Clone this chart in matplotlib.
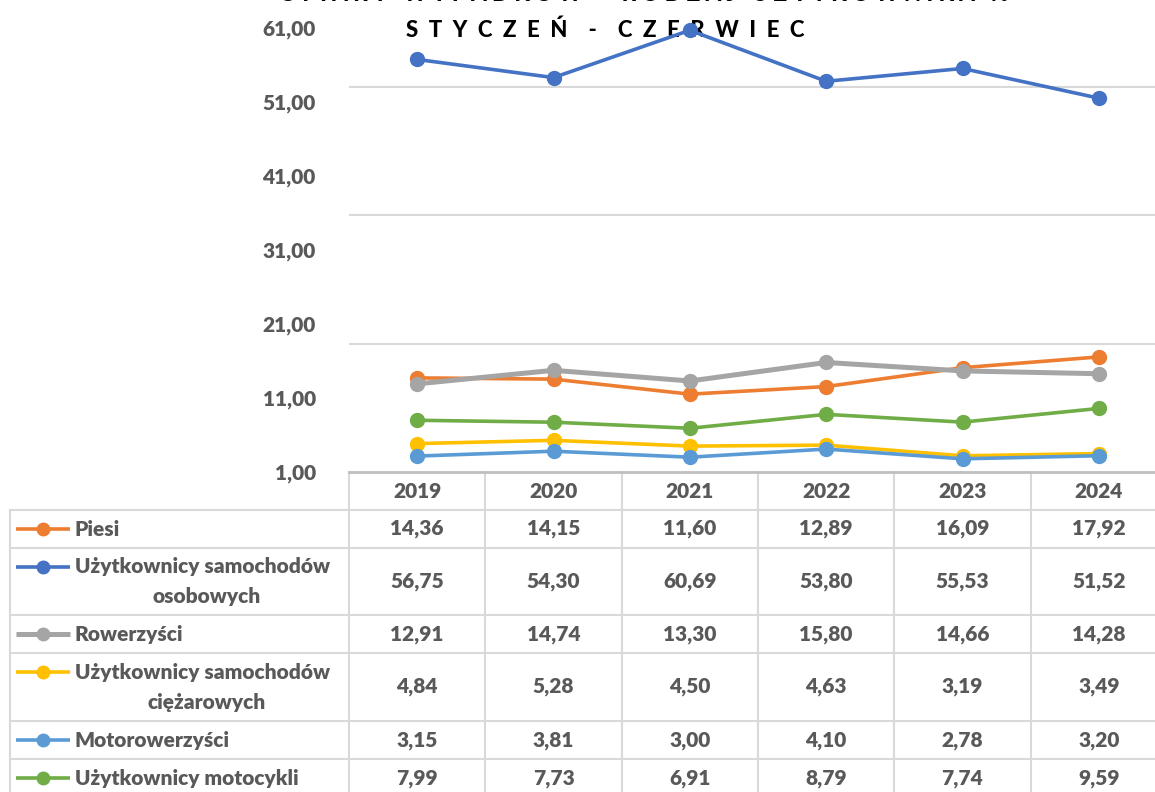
import numpy as np
import matplotlib
matplotlib.use("Agg")
import matplotlib.pyplot as plt

plt.rcParams['font.family'] = ['Lato', 'DejaVu Sans']

# data
years = ["2019", "2020", "2021", "2022", "2023", "2024"]
labels = ["Piesi",
          "Użytkownicy samochodów\nosobowych",
          "Rowerzyści",
          "Użytkownicy samochodów\nciężarowych",
          "Motorowerzyści",
          "Użytkownicy motocykli"]
piesi = [14.36, 14.15, 11.60, 12.89, 16.09, 17.92]
osobowe = [56.75, 54.30, 60.69, 53.80, 55.53, 51.52]
rowerzysci = [12.91, 14.74, 13.30, 15.80, 14.66, 14.28]
ciezarowe = [4.84, 5.28, 4.50, 4.63, 3.19, 3.49]
motorowery = [3.15, 3.81, 3.00, 4.10, 2.78, 3.20]
motocykle = [7.99, 7.73, 6.91, 8.79, 7.74, 9.59]
series = [piesi, osobowe, rowerzysci, ciezarowe, motorowery, motocykle]

colors = ["#ED7D31", "#4472C4", "#A5A5A5", "#FFC000", "#5B9BD5", "#70AD47"]
widths = [2.6, 2.6, 3.6, 2.6, 2.6, 2.6]
txt_col = "#595959"
grid_col = "#D9D9D9"
fw = 800

W, H = 1155, 792
fig = plt.figure(figsize=(W / 100, H / 100), dpi=100)

# chart area (pixels: x 349..1167, y 28..472)
x0, x1, ytop, ybot = 349, 1167, 28, 472
ax = fig.add_axes([x0 / W, 1 - ybot / H, (x1 - x0) / W, (ybot - ytop) / H])
ax.set_xlim(-0.5, len(years) - 0.5)
ax.set_ylim(1, 61)

# pedestrians sit on a hidden secondary axis in the original
ax2 = ax.twinx()
ax2.set_ylim(-1.6, 73.7)
ax2.axis('off')

# gridlines sit off the tick labels in the original
for g in np.linspace(1, 53, 4)[1:]:
    ax.axhline(g, color=grid_col, lw=1.5, zorder=0)

x = np.arange(len(years))
for k, (vals, c, lw) in enumerate(zip(series, colors, widths)):
    target = ax2 if k == 0 else ax
    target.plot(x, vals, color=c, lw=lw, marker='o', markersize=10,
                solid_capstyle='round', clip_on=False, zorder=3 + k)
ax2.set_zorder(ax.get_zorder() - 0.5)
ax.patch.set_alpha(0)

ticks = np.arange(1, 62, 10)
ax.set_yticks(ticks)
ax.set_yticklabels([f"{t:.2f}".replace('.', ',') for t in ticks],
                   fontsize=15, fontweight=fw, color=txt_col)
ax.tick_params(axis='y', length=0, pad=24)
ax.set_xticks([])
for s in ['top', 'right', 'left']:
    ax.spines[s].set_visible(False)
ax.spines['bottom'].set_color("#BFBFBF")
ax.spines['bottom'].set_linewidth(2)

# data table drawn in pixel coordinates
tab = fig.add_axes([0, 0, 1, 1], zorder=-1)
tab.set_xlim(0, W)
tab.set_ylim(H, 0)
tab.axis('off')

col_w = (x1 - x0) / len(years)
col_edges = [x0 + i * col_w for i in range(len(years) + 1)]
row_edges = [472, 510, 548, 615, 653, 721, 759, 797]

for xe in col_edges:
    tab.plot([xe, xe], [row_edges[0], row_edges[-1]], color=grid_col, lw=1.5)
tab.plot([10, 10], [row_edges[1], row_edges[-1]], color=grid_col, lw=1.5)
for ye in row_edges[1:]:
    tab.plot([10, x1], [ye, ye], color=grid_col, lw=1.5)

tk = dict(fontsize=15, fontweight=fw, color=txt_col, va='center')
hdr_y = (row_edges[0] + row_edges[1]) / 2 + 1
for i, yr in enumerate(years):
    tab.text(x0 + (i + 0.5) * col_w, hdr_y, yr, ha='center', **tk)

for r, (lab, vals, c, lw) in enumerate(zip(labels, series, colors, widths)):
    top, bot = row_edges[r + 1], row_edges[r + 2]
    mid = (top + bot) / 2
    lines = lab.split("\n")
    if len(lines) == 1:
        tab.text(75, mid, lines[0], ha='left', **tk)
        key_y = mid
    else:
        key_y = top + 19
        tab.text(75, key_y, lines[0], ha='left', **tk)
        tab.text(207, key_y + 30, lines[1], ha='center', **tk)
    tab.plot([16, 70], [key_y, key_y], color=c, lw=lw, solid_capstyle='butt')
    tab.plot([43], [key_y], marker='o', markersize=9, color=c)
    for i, v in enumerate(vals):
        tab.text(x0 + (i + 0.5) * col_w, mid, f"{v:.2f}".replace('.', ','),
                 ha='center', **tk)

# title (top line is cut off by the image edge)
tab.text(644, -6, "O F I A R Y   W Y P A D K Ó W   -   R O D Z A J   U Ż Y T K O W N I K A   %",
         ha='center', va='center', fontsize=16, fontweight=900, color='black')
tab.text(605, 30, "S  T  Y  C  Z  E  Ń    -    C  Z  E  R  W  I  E  C",
         ha='center', va='center', fontsize=16, fontweight=900, color='black')

fig.savefig("out.png", dpi=100)
